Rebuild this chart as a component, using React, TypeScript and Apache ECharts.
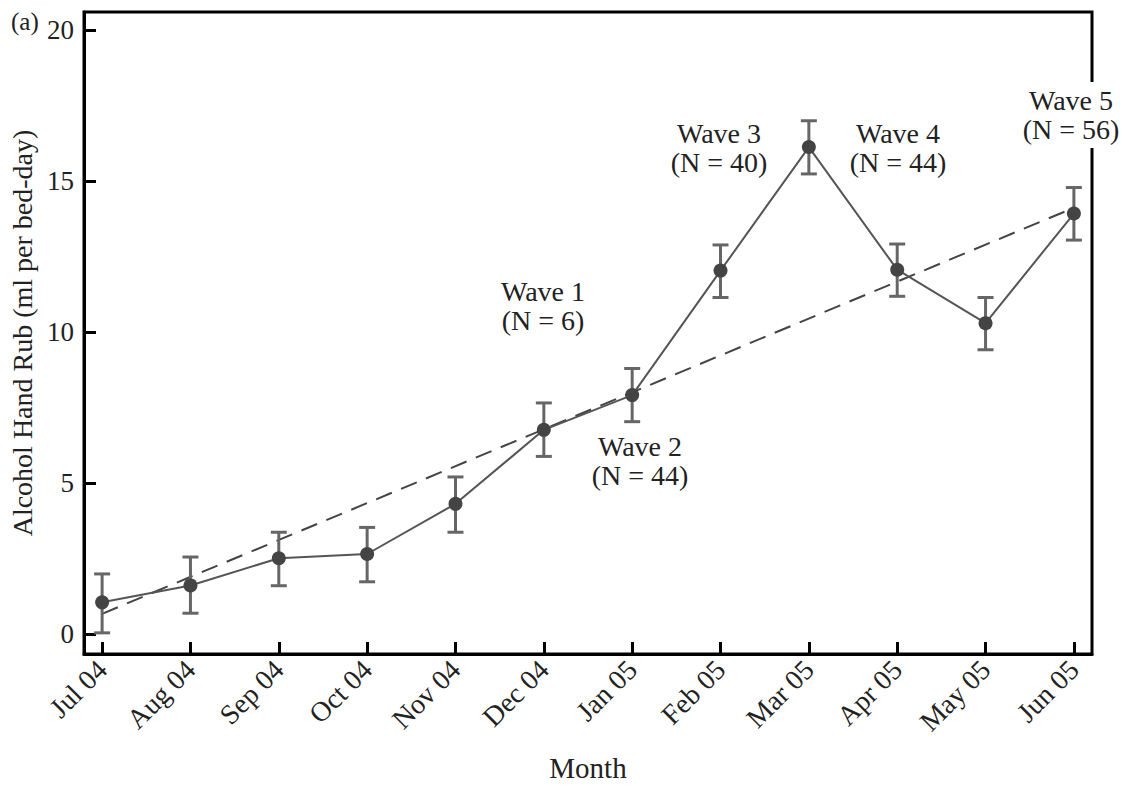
import React, { useEffect, useRef } from "react";
import * as echarts from "echarts";

const months = ["Jul 04", "Aug 04", "Sep 04", "Oct 04", "Nov 04", "Dec 04", "Jan 05", "Feb 05", "Mar 05", "Apr 05", "May 05", "Jun 05"];
const meanValues = [1.06, 1.62, 2.52, 2.66, 4.32, 6.77, 7.92, 12.04, 16.13, 12.07, 10.3, 13.93];
const upperValues = [2.0, 2.56, 3.38, 3.54, 5.21, 7.66, 8.8, 12.89, 17.0, 12.92, 11.15, 14.79];
const lowerValues = [0.05, 0.7, 1.61, 1.74, 3.38, 5.89, 7.04, 11.15, 15.24, 11.19, 9.42, 13.05];
const trendStart = 0.68;
const trendEnd = 14.12;
const yTicks = [0, 5, 10, 15, 20];
const waveLabels = [
  { title: "Wave 1", n: "(N = 6)", x: 543, y: 273 },
  { title: "Wave 2", n: "(N = 44)", x: 640, y: 428 },
  { title: "Wave 3", n: "(N = 40)", x: 719, y: 115 },
  { title: "Wave 4", n: "(N = 44)", x: 898, y: 115 },
  { title: "Wave 5", n: "(N = 56)", x: 1071, y: 82 },
];

const FONT = "'Liberation Serif', 'DejaVu Serif', serif";

export default function App() {
  const ref = useRef<HTMLDivElement>(null);
  useEffect(() => {
    if (!ref.current) return;
    const chart = echarts.init(ref.current, undefined, { renderer: "svg" });
    const idx = months.map((_, i) => i);
    const errData = idx.map((i) => [i, lowerValues[i], upperValues[i]]);
    const graphics: any[] = [
      {
        type: "text",
        left: 11,
        top: 9,
        z: 100,
        style: { text: "(a)", font: `25px ${FONT}`, fill: "#222" },
      },
    ];
    waveLabels.forEach((w) => {
      graphics.push({
        type: "text",
        x: w.x,
        y: w.y,
        z: 100,
        style: {
          text: `${w.title}\n${w.n}`,
          font: `28px ${FONT}`,
          fill: "#222",
          align: "center",
          verticalAlign: "top",
          lineHeight: 29,
          padding: [4, 2, 4, 2],
          backgroundColor: "#fff",
        },
      });
    });
    chart.setOption({
      animation: false,
      backgroundColor: "#fff",
      grid: {
        left: 84,
        right: 42,
        top: 12,
        bottom: 126,
        show: true,
        borderColor: "#000",
        borderWidth: 3,
      },
      xAxis: {
        type: "value",
        min: -0.205,
        max: 11.205,
        name: "Month",
        nameLocation: "middle",
        nameGap: 99,
        nameTextStyle: { fontFamily: FONT, fontSize: 29, color: "#222" },
        splitLine: { show: false },
        axisLine: { show: true, onZero: false, lineStyle: { color: "#000", width: 3 } },
        axisTick: {
          show: true,
          inside: true,
          length: 12,
          lineStyle: { color: "#000", width: 3 },
          customValues: idx,
        },
        axisLabel: {
          customValues: idx,
          rotate: 45,
          margin: 11,
          fontFamily: FONT,
          fontSize: 28,
          color: "#222",
          formatter: (v: number) => months[Math.round(v)] ?? "",
        },
      },
      yAxis: {
        type: "value",
        min: -0.65,
        max: 20.6,
        name: "Alcohol Hand Rub (ml per bed-day)",
        nameLocation: "middle",
        nameGap: 48,
        nameRotate: 90,
        nameTextStyle: { fontFamily: FONT, fontSize: 28, color: "#222" },
        splitLine: { show: false },
        axisLine: { show: true, onZero: false, lineStyle: { color: "#000", width: 3 } },
        axisTick: {
          show: true,
          inside: true,
          length: 12,
          lineStyle: { color: "#000", width: 3 },
          customValues: yTicks,
        },
        axisLabel: {
          customValues: yTicks,
          margin: 10,
          fontFamily: FONT,
          fontSize: 27,
          color: "#222",
        },
      },
      series: [
        {
          type: "line",
          data: [
            [0, trendStart],
            [11, trendEnd],
          ],
          symbol: "none",
          lineStyle: { color: "#444", width: 2, type: [17, 10] },
          z: 2,
        },
        {
          type: "custom",
          data: errData,
          z: 3,
          renderItem: (params: any, api: any) => {
            const x = api.value(0);
            const lo = api.coord([x, api.value(1)]);
            const hi = api.coord([x, api.value(2)]);
            const hw = 8;
            const style = { stroke: "#666", lineWidth: 3 };
            return {
              type: "group",
              children: [
                { type: "line", shape: { x1: lo[0], y1: lo[1], x2: hi[0], y2: hi[1] }, style },
                { type: "line", shape: { x1: hi[0] - hw, y1: hi[1], x2: hi[0] + hw, y2: hi[1] }, style },
                { type: "line", shape: { x1: lo[0] - hw, y1: lo[1], x2: lo[0] + hw, y2: lo[1] }, style },
              ],
            };
          },
        },
        {
          type: "line",
          data: idx.map((i) => [i, meanValues[i]]),
          symbol: "circle",
          symbolSize: 14,
          itemStyle: { color: "#444" },
          lineStyle: { color: "#555", width: 2 },
          z: 4,
        },
      ],
      graphic: graphics,
    });
    return () => chart.dispose();
  }, []);
  return (
    <div
      ref={ref}
      style={{ position: "fixed", left: 0, top: 0, width: 1134, height: 787, background: "#fff" }}
    />
  );
}
